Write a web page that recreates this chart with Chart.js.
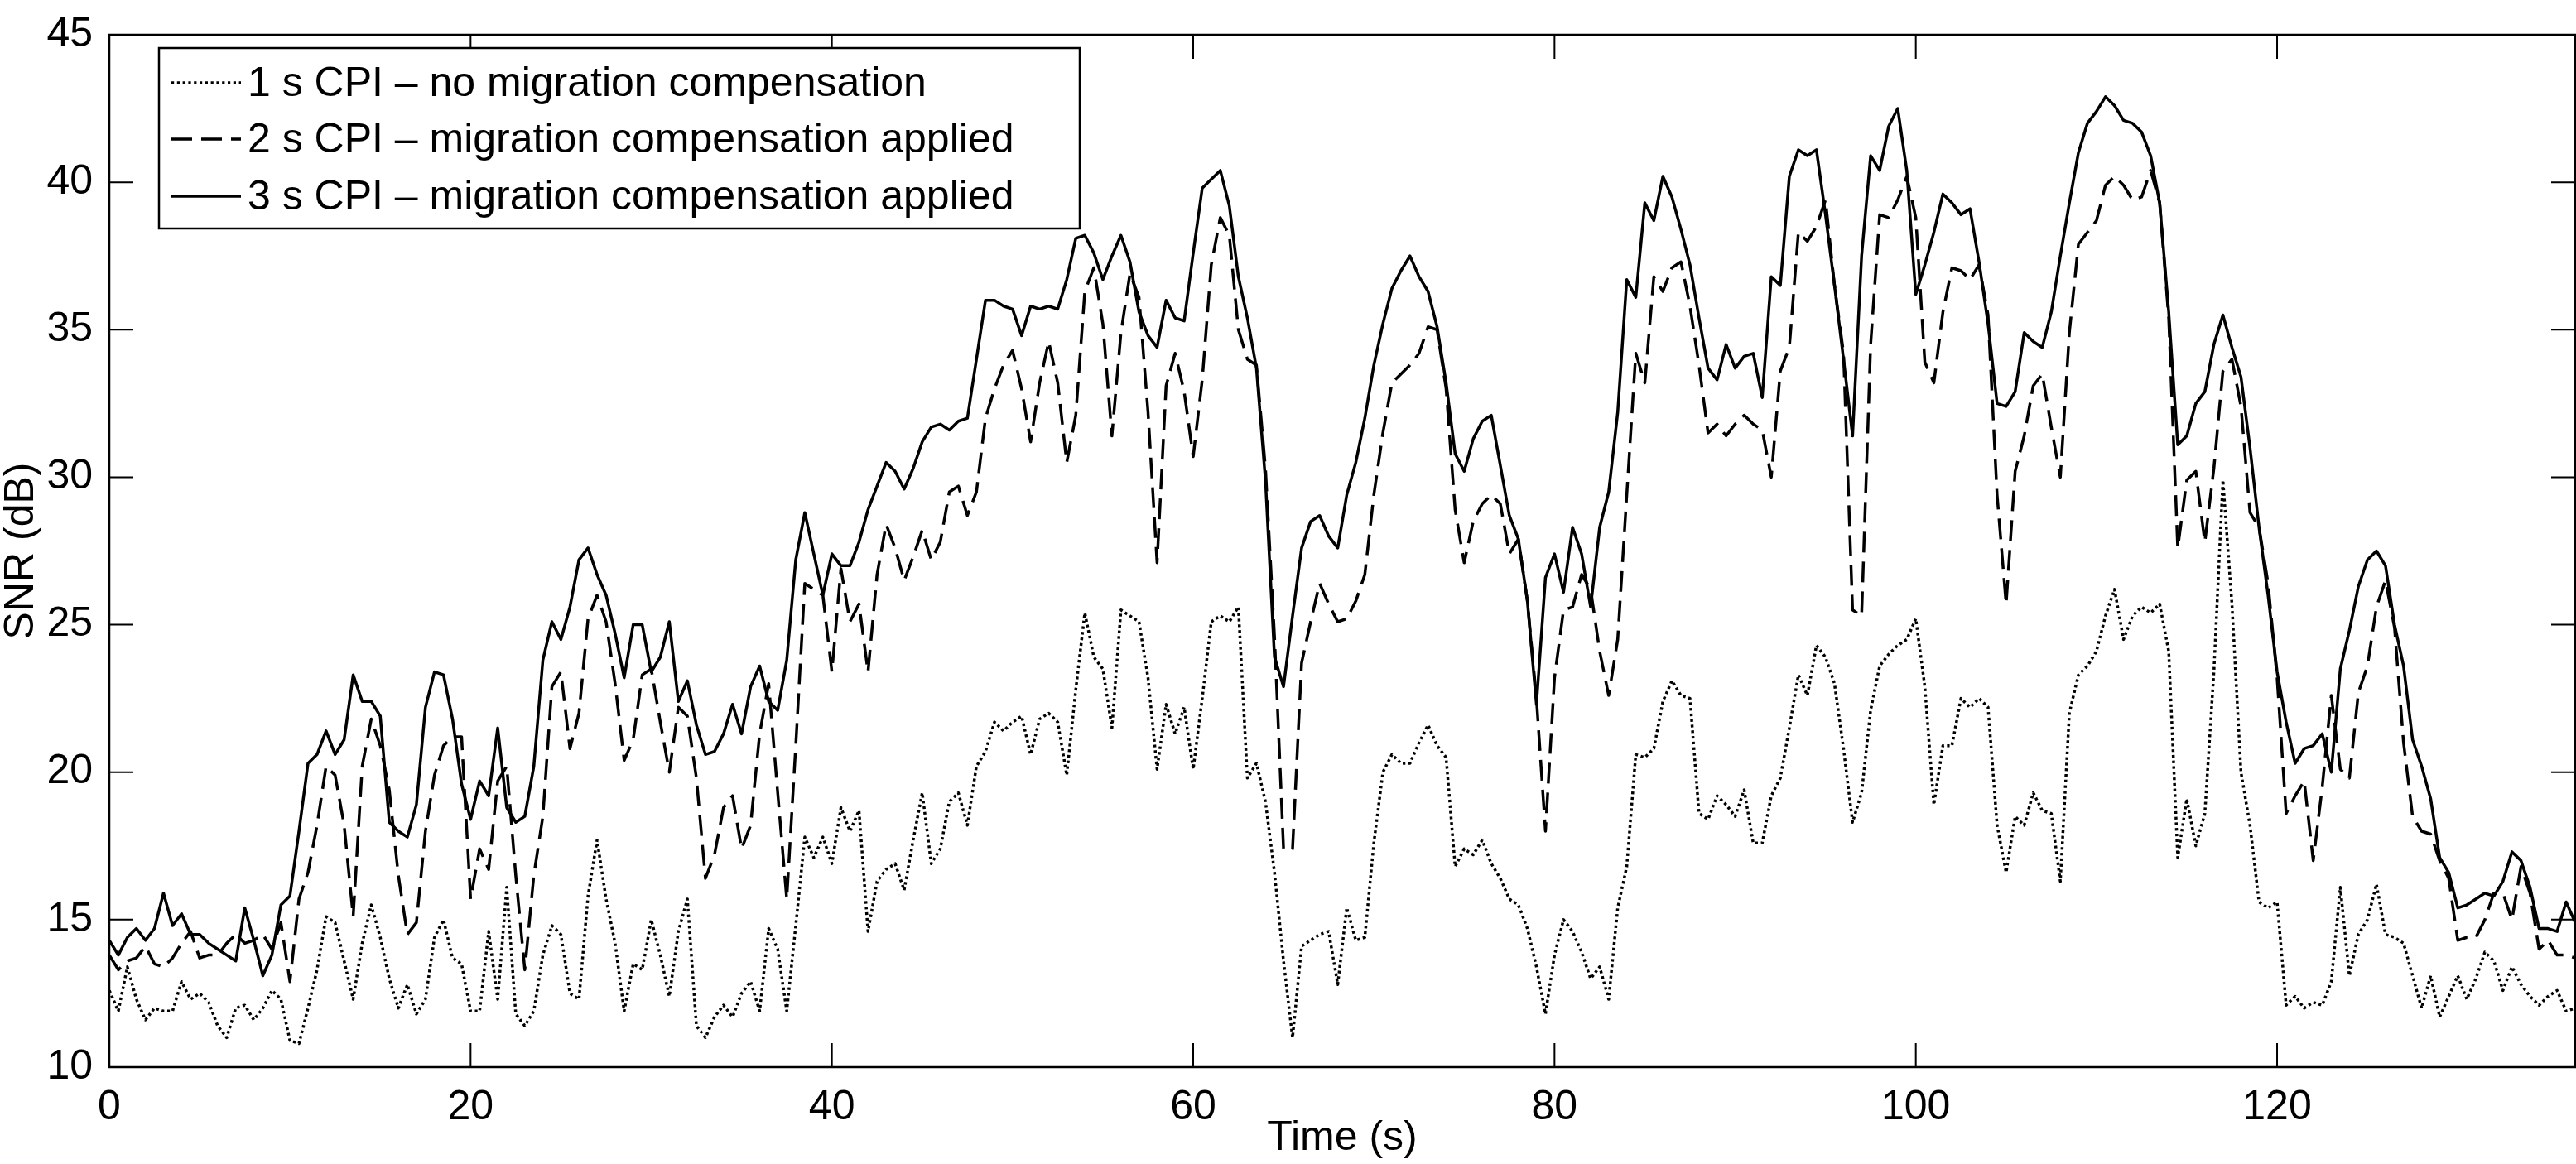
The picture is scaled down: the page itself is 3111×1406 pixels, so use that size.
<!DOCTYPE html>
<html>
<head>
<meta charset="utf-8">
<script src="https://cdn.jsdelivr.net/npm/chart.js@4.4.1/dist/chart.umd.min.js"></script>
<style>
  html, body { margin: 0; padding: 0; background: #fff; }
  canvas { display: block; }
</style>
</head>
<body>
<canvas id="snrChart" width="3111" height="1406"></canvas>
<script>
// sample interval of the SNR tracks (s)
const sampleStep = 0.5;

const seriesNames = [
  '1 s CPI \u2013 no migration compensation',
  '2 s CPI \u2013 migration compensation applied',
  '3 s CPI \u2013 migration compensation applied'
];

const xTicks = [0, 20, 40, 60, 80, 100, 120];
const yTicks = [10, 15, 20, 25, 30, 35, 40, 45];

// 1 s CPI, no migration compensation (dotted)
const snr1s = [
  12.6,11.9,13.4,12.3,11.6,12.0,11.9,11.9,12.9,12.3,
  12.5,12.2,11.4,11.0,12.0,12.1,11.6,12.0,12.6,12.3,
  10.9,10.8,12.0,13.3,15.1,14.9,13.6,12.3,14.2,15.5,
  14.4,13.0,12.0,12.8,11.8,12.3,14.4,15.0,13.7,13.5,
  11.9,11.9,14.6,12.3,16.1,11.8,11.4,11.9,13.8,14.8,
  14.5,12.5,12.3,15.8,17.7,15.7,14.2,11.9,13.5,13.3,
  15.0,13.8,12.4,14.6,15.7,11.4,11.0,11.7,12.1,11.7,
  12.5,12.9,11.9,14.7,14.0,11.9,14.8,17.8,17.1,17.8,
  16.9,18.8,18.0,18.7,14.6,16.3,16.7,16.9,16.0,17.7,
  19.3,16.9,17.4,19.0,19.3,18.2,20.2,20.7,21.7,21.4,
  21.7,21.9,20.6,21.8,22.0,21.7,19.9,22.8,25.4,23.9,
  23.5,21.5,25.5,25.3,25.1,23.2,20.1,22.3,21.3,22.2,
  20.1,22.5,25.1,25.3,25.1,25.6,19.8,20.3,19.0,16.6,
  13.6,11.0,14.1,14.3,14.5,14.6,12.8,15.4,14.3,14.4,
  17.6,20.0,20.6,20.3,20.3,21.0,21.6,20.9,20.5,16.8,
  17.4,17.2,17.7,16.9,16.4,15.7,15.5,14.7,13.4,11.8,
  13.8,15.0,14.6,13.9,13.0,13.4,12.3,15.4,16.8,20.6,
  20.5,20.8,22.4,23.1,22.6,22.5,18.6,18.4,19.2,18.9,
  18.5,19.4,17.6,17.6,19.2,19.8,21.5,23.3,22.6,24.3,
  23.9,23.0,20.8,18.3,19.3,22.1,23.6,24.0,24.3,24.5,
  25.2,22.9,18.9,20.9,20.9,22.5,22.2,22.5,22.2,18.2,
  16.6,18.5,18.2,19.3,18.7,18.6,16.3,22.0,23.3,23.6,
  24.1,25.3,26.2,24.5,25.3,25.6,25.4,25.7,24.1,17.1,
  19.1,17.5,18.6,23.4,29.9,25.7,20.0,18.2,15.6,15.4,
  15.6,12.1,12.4,12.0,12.2,12.1,12.9,16.1,13.1,14.5,
  15.0,16.2,14.5,14.4,14.2,13.1,12.0,13.1,11.7,12.4,
  13.1,12.3,13.0,13.9,13.6,12.6,13.4,12.8,12.4,12.1,
  12.4,12.6,11.9,12.0
];

// 2 s CPI, migration compensation applied (dashed)
const snr2s = [
  13.8,13.3,13.6,13.7,14.1,13.5,13.4,13.7,14.2,14.6,
  13.7,13.8,13.8,14.2,14.5,14.2,14.3,14.5,14.0,14.9,
  12.9,15.7,16.6,18.2,20.2,19.9,18.2,15.1,20.2,21.8,
  20.9,19.4,16.5,14.5,14.9,18.0,19.9,20.9,21.2,21.2,
  15.7,17.4,16.7,19.7,20.2,16.5,13.3,16.5,18.5,22.9,
  23.4,20.8,22.0,25.2,26.0,25.1,23.0,20.4,21.1,23.3,
  23.5,21.7,20.0,22.2,21.9,19.8,16.4,17.2,18.8,19.2,
  17.4,18.2,21.3,23.0,19.3,15.7,20.9,26.4,26.2,26.0,
  23.4,26.9,25.1,25.7,23.4,26.7,28.4,27.6,26.5,27.3,
  28.2,27.2,27.8,29.5,29.7,28.7,29.5,32.0,33.0,33.8,
  34.3,33.0,31.2,33.2,34.6,33.2,30.5,32.1,36.3,37.1,
  35.2,31.4,34.9,36.9,36.1,32.2,27.1,33.1,34.2,32.9,
  30.7,33.3,37.2,38.8,38.2,35.0,34.0,33.8,30.3,24.6,
  17.4,17.4,23.7,25.1,26.4,25.7,25.1,25.2,25.8,26.7,
  29.4,31.5,33.2,33.5,33.8,34.2,35.1,35.0,33.0,28.9,
  27.1,28.5,29.1,29.4,29.1,27.4,27.9,25.8,22.5,18.0,
  23.2,25.5,25.6,26.7,26.2,24.1,22.6,24.5,29.4,34.2,
  33.2,36.8,36.3,37.1,37.3,35.8,33.8,31.5,31.8,31.4,
  31.8,32.1,31.8,31.6,30.0,33.6,34.4,38.3,38.0,38.5,
  39.4,36.5,34.2,25.5,25.3,34.5,38.9,38.8,39.4,40.2,
  38.8,33.9,33.2,35.6,37.1,37.0,36.7,37.2,35.5,29.4,
  25.7,30.2,31.4,33.1,33.5,31.7,30.0,34.9,37.9,38.3,
  38.7,39.9,40.2,39.9,39.4,39.5,40.4,39.3,35.4,27.6,
  29.9,30.2,27.8,30.3,33.6,34.0,32.4,28.8,28.3,26.4,
  23.2,18.6,19.2,19.7,17.0,19.5,22.6,20.1,19.8,22.7,
  23.6,25.6,26.5,24.9,21.0,18.5,18.0,17.9,17.0,16.4,
  14.3,14.4,14.4,15.0,15.9,15.9,15.0,16.8,15.9,14.0,
  14.3,13.8,13.8,13.7
];

// 3 s CPI, migration compensation applied (solid)
const snr3s = [
  14.3,13.8,14.4,14.7,14.3,14.7,15.9,14.8,15.2,14.5,
  14.5,14.2,14.0,13.8,13.6,15.4,14.3,13.1,13.8,15.5,
  15.8,18.0,20.3,20.6,21.4,20.6,21.1,23.3,22.4,22.4,
  21.9,18.3,18.0,17.8,18.9,22.2,23.4,23.3,21.8,19.6,
  18.4,19.7,19.2,21.5,18.8,18.3,18.5,20.2,23.8,25.1,
  24.5,25.6,27.2,27.6,26.7,26.0,24.7,23.2,25.0,25.0,
  23.4,23.9,25.1,22.4,23.1,21.6,20.6,20.7,21.3,22.3,
  21.3,22.9,23.6,22.4,22.1,23.8,27.2,28.8,27.4,26.0,
  27.4,27.0,27.0,27.8,28.9,29.7,30.5,30.2,29.6,30.3,
  31.2,31.7,31.8,31.6,31.9,32.0,34.0,36.0,36.0,35.8,
  35.7,34.8,35.8,35.7,35.8,35.7,36.7,38.1,38.2,37.6,
  36.7,37.5,38.2,37.3,35.6,34.8,34.4,36.0,35.4,35.3,
  37.6,39.8,40.1,40.4,39.2,36.8,35.4,33.7,29.9,23.9,
  22.9,25.3,27.6,28.5,28.7,28.0,27.6,29.4,30.5,32.0,
  33.8,35.2,36.4,37.0,37.5,36.8,36.3,35.1,33.2,30.8,
  30.2,31.3,31.9,32.1,30.4,28.7,27.9,25.8,22.3,26.6,
  27.4,26.1,28.3,27.4,25.6,28.3,29.5,32.2,36.7,36.1,
  39.3,38.7,40.2,39.5,38.4,37.2,35.4,33.7,33.3,34.5,
  33.7,34.1,34.2,32.7,36.8,36.5,40.2,41.1,40.9,41.1,
  38.9,36.5,34.0,31.4,37.5,40.9,40.4,41.9,42.5,40.4,
  36.2,37.2,38.3,39.6,39.3,38.9,39.1,37.3,35.2,32.5,
  32.4,32.9,34.9,34.6,34.4,35.6,37.5,39.3,41.0,42.0,
  42.4,42.9,42.6,42.1,42.0,41.7,40.9,39.3,35.6,31.1,
  31.4,32.5,32.9,34.5,35.5,34.4,33.4,31.0,28.3,26.0,
  23.4,21.7,20.3,20.8,20.9,21.3,20.0,23.5,24.8,26.3,
  27.2,27.5,27.0,25.0,23.6,21.1,20.2,19.1,17.1,16.6,
  15.4,15.5,15.7,15.9,15.8,16.3,17.3,17.0,16.1,14.7,
  14.7,14.6,15.6,14.9
];

const times = snr1s.map((_, i) => i * sampleStep);

const FONT = '"Liberation Sans", Arial, Helvetica, sans-serif';
const dashes = [[3.2, 3.6], [25, 11], []];

// MATLAB-style box with inward ticks, plus the legend
const boxPlugin = {
  id: 'boxPlugin',
  afterDraw(chart) {
    const {ctx, chartArea: a, scales: {x, y}} = chart;
    const tl = 29;
    ctx.save();
    ctx.strokeStyle = '#000';
    ctx.lineWidth = 2;
    ctx.beginPath();
    xTicks.forEach(v => {
      const px = x.getPixelForValue(v);
      ctx.moveTo(px, a.bottom); ctx.lineTo(px, a.bottom - tl);
      ctx.moveTo(px, a.top); ctx.lineTo(px, a.top + tl);
    });
    yTicks.forEach(v => {
      const py = y.getPixelForValue(v);
      ctx.moveTo(a.left, py); ctx.lineTo(a.left + tl, py);
      ctx.moveTo(a.right, py); ctx.lineTo(a.right - tl, py);
    });
    ctx.stroke();
    ctx.lineWidth = 2.5;
    ctx.strokeRect(a.left, a.top, a.right - a.left, a.bottom - a.top);

    // legend
    const lx = 192, ly = 58, lw = 1112, lh = 218;
    ctx.fillStyle = '#fff';
    ctx.fillRect(lx, ly, lw, lh);
    ctx.lineWidth = 2.5;
    ctx.strokeRect(lx, ly, lw, lh);
    const rows = [100, 168, 237];
    ctx.font = '50px ' + FONT;
    ctx.textBaseline = 'middle';
    ctx.textAlign = 'left';
    chart.data.datasets.forEach((ds, i) => {
      ctx.lineWidth = ds.borderWidth;
      ctx.setLineDash(ds.borderDash || []);
      ctx.beginPath();
      ctx.moveTo(207, rows[i]);
      ctx.lineTo(291, rows[i]);
      ctx.stroke();
      ctx.setLineDash([]);
      ctx.fillStyle = '#000';
      ctx.fillText(ds.label, 299, rows[i] + 2);
    });
    ctx.restore();
  }
};

new Chart(document.getElementById('snrChart'), {
  type: 'line',
  data: {
    labels: times,
    datasets: [snr1s, snr2s, snr3s].map((d, i) => ({
      label: seriesNames[i],
      data: d,
      borderColor: '#000',
      borderWidth: 3.5,
      borderDash: dashes[i],
      borderCapStyle: 'butt',
      borderJoinStyle: 'round',
      pointRadius: 0,
      tension: 0,
      fill: false
    }))
  },
  options: {
    responsive: false,
    animation: false,
    devicePixelRatio: 1,
    layout: { padding: { top: 18, right: 1, left: 0, bottom: 0 } },
    plugins: { legend: { display: false }, tooltip: { enabled: false } },
    scales: {
      x: {
        type: 'linear',
        min: 0,
        max: 136.5,
        afterBuildTicks: s => { s.ticks = xTicks.map(v => ({ value: v })); },
        afterFit: s => { s.height = 117; },
        grid: { display: false },
        border: { display: false },
        ticks: { color: '#000', font: { family: FONT, size: 50 }, padding: 11, maxRotation: 0, autoSkip: false },
        title: { display: true, text: 'Time (s)', color: '#000',
                 font: { family: FONT, size: 50, lineHeight: 1 }, padding: { top: 0, bottom: 6 } }
      },
      y: {
        min: 10,
        max: 45,
        afterBuildTicks: s => { s.ticks = yTicks.map(v => ({ value: v })); },
        afterFit: s => { s.width = 132; },
        grid: { display: false },
        border: { display: false },
        ticks: { color: '#000', font: { family: FONT, size: 50 }, padding: 12 },
        title: { display: true, text: 'SNR (dB)', color: '#000',
                 font: { family: FONT, size: 50, lineHeight: 1 }, padding: { top: 1, bottom: 0 } }
      }
    }
  },
  plugins: [boxPlugin]
});
</script>
</body>
</html>
